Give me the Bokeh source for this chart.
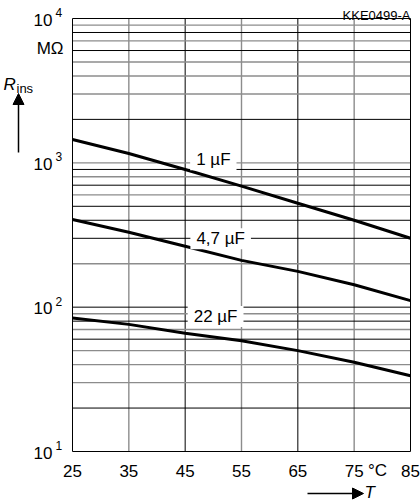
import math
from bokeh.plotting import figure
from bokeh.models import Range1d, Label, Arrow, NormalHead
from bokeh.core.properties import value
from bokeh.embed import file_html
from bokeh.resources import INLINE

# ---- data ----
temps = [25, 35, 45, 55, 65, 75, 85]
r_1uF = [1450, 1160, 900, 690, 525, 400, 300]
r_4_7uF = [405, 330, 264, 211, 177, 143, 111]
r_22uF = [84, 76, 66, 58.5, 50, 41.5, 33.5]
curve_names = ["1 µF", "4,7 µF", "22 µF"]
curve_label_pos = [(50.0, 1050), (51.3, 298), (50.4, 86)]
x_ticks = [25, 35, 45, 55, 65, 75, 85]
x_grid = [35, 45, 55, 65, 75]
x_grid_col = ["gray", "black", "gray", "black", "gray"]
y_decades = [10, 100, 1000, 10000]
y_exps = ["1", "2", "3", "4"]
y_minor = [20, 30, 40, 50, 60, 70, 80, 90, 100,
           200, 300, 400, 500, 600, 700, 800, 900, 1000,
           2000, 3000, 4000, 5000, 6000, 7000, 8000, 9000]
y_minor_col = ["black", "gray", "gray", "gray", "black", "gray", "black", "gray", "black",
               "gray", "black", "black", "black", "gray", "black", "gray", "black", "gray",
               "black", "gray", "gray", "gray", "black", "gray", "black", "gray"]

X0, X1 = 25, 85
Y0, Y1 = 10, 10000
FONT = "Liberation Sans"
GRAY = "#8c8c8c"

# layout (canvas pixels): data frame box inside the canvas
W, H = 420, 504
FL, FR, FT, FB = 72, 410, 18, 451
LY0, LY1 = math.log10(Y0), math.log10(Y1)
ppx = (FR - FL) / (X1 - X0)
ppd = (FB - FT) / (LY1 - LY0)

def xd(px):
    return X0 + (px - FL) / ppx

def yd(py):
    return 10 ** (LY0 + (FB - py) / ppd)

p = figure(width=W, height=H, x_range=Range1d(xd(0), xd(W)), y_range=Range1d(yd(H), yd(0)),
           y_axis_type="log", output_backend="svg", toolbar_location=None,
           min_border=0, min_border_left=0, min_border_right=0,
           min_border_top=0, min_border_bottom=0)
p.background_fill_color = "white"
p.border_fill_color = "white"
p.outline_line_color = None
p.xgrid.visible = False
p.ygrid.visible = False
p.xaxis.visible = False
p.yaxis.visible = False

# grid lines
vcols = [GRAY if c == "gray" else "black" for c in x_grid_col]
vw = [1.4 if c == "gray" else 1 for c in x_grid_col]
p.segment(x0=x_grid, y0=[Y0] * len(x_grid), x1=x_grid, y1=[Y1] * len(x_grid),
          line_color=vcols, line_width=vw)
hcols = [GRAY if c == "gray" else "black" for c in y_minor_col]
hw = [1.4 if c == "gray" else 1 for c in y_minor_col]
p.segment(x0=[X0] * len(y_minor), y0=y_minor, x1=[X1] * len(y_minor), y1=y_minor,
          line_color=hcols, line_width=hw)

# frame
p.quad(left=[X0], right=[X1], bottom=[Y0], top=[Y1], fill_color=None,
       line_color="black", line_width=1)

# curves
for ys in (r_1uF, r_4_7uF, r_22uF):
    p.line(temps, ys, line_color="black", line_width=3)

# curve labels
for name, (lx, ly) in zip(curve_names, curve_label_pos):
    p.add_layout(Label(x=lx, y=ly, text=name, text_align="center", text_baseline="middle",
                       text_font=FONT, text_font_size="17px", text_color="black",
                       background_fill_color="white", padding=dict(x=6, y=1)))

# x tick labels
p.text(x=x_ticks, y=[yd(470)] * len(x_ticks), text=[str(t) for t in x_ticks],
       text_align="center", text_baseline="middle", text_font=value(FONT),
       text_font_size="17px", text_color="black")

# y tick labels (10 with superscript exponent)
for v, e in zip(y_decades, y_exps):
    py = FB - (math.log10(v) - LY0) * ppd
    p.add_layout(Label(x=xd(52), y=yd(py + 1), text="10", text_align="right", text_baseline="middle",
                       text_font=FONT, text_font_size="17px", text_color="black"))
    p.add_layout(Label(x=xd(55), y=yd(py - 6), text=e, text_align="left", text_baseline="middle",
                       text_font=FONT, text_font_size="12px", text_color="black"))

# unit and axis titles
p.add_layout(Label(x=xd(63), y=yd(48), text="MΩ", text_align="right", text_baseline="middle",
                   text_font=FONT, text_font_size="17px", text_color="black"))
p.add_layout(Label(x=xd(3), y=yd(84), text="R", text_align="left", text_baseline="alphabetic",
                   text_font=FONT, text_font_size="17px", text_font_style="italic", text_color="black"))
p.add_layout(Label(x=xd(16), y=yd(88), text="ins", text_align="left", text_baseline="alphabetic",
                   text_font=FONT, text_font_size="13px", text_color="black"))
p.add_layout(Arrow(x_start=xd(18), y_start=yd(152), x_end=xd(18), y_end=yd(93),
                   line_color="black", line_width=1.5,
                   end=NormalHead(size=11, fill_color="black", line_color="black", line_width=1)))
p.add_layout(Label(x=xd(377), y=yd(470), text="°C", text_align="center", text_baseline="middle",
                   text_font=FONT, text_font_size="17px", text_color="black"))
p.add_layout(Arrow(x_start=xd(307), y_start=yd(493), x_end=xd(363), y_end=yd(493),
                   line_color="black", line_width=1.5,
                   end=NormalHead(size=11, fill_color="black", line_color="black", line_width=1)))
p.add_layout(Label(x=xd(364), y=yd(492), text="T", text_align="left", text_baseline="middle",
                   text_font=FONT, text_font_size="17px", text_font_style="italic", text_color="black"))
p.add_layout(Label(x=xd(410), y=yd(15), text="KKE0499-A", text_align="right", text_baseline="alphabetic",
                   text_font=FONT, text_font_size="13px", text_color="black"))

open("out.html", "w").write(file_html(p, INLINE))
